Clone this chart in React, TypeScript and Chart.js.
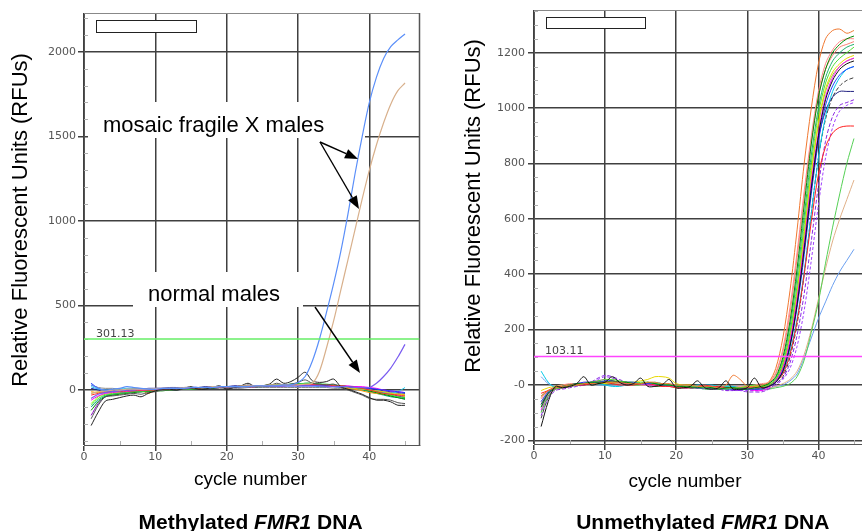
import React, { useEffect, useRef } from 'react';
import { Chart, registerables } from 'chart.js';

Chart.register(...registerables);

// ---------------- shared ----------------
const cycles = [
  1, 2, 3, 4, 5, 6, 7, 8, 9, 10, 11, 12, 13, 14, 15, 16, 17, 18, 19, 20,
  21, 22, 23, 24, 25, 26, 27, 28, 29, 30, 31, 32, 33, 34, 35, 36, 37, 38, 39, 40,
  41, 42, 43, 44, 45,
];

// ---------------- left panel (methylated) ----------------
const leftXTicks = [0, 10, 20, 30, 40];
const leftXTickLabels = ['0', '10', '20', '30', '40'];
const leftXMinor = [5, 15, 25, 35, 45];
const leftYTicks = [0, 500, 1000, 1500, 2000];
const leftYTickLabels = ['0', '500', '1000', '1500', '2000'];
const leftYMinor = [-300, -200, -100, 100, 200, 300, 400, 600, 700, 800, 900, 1100, 1200, 1300, 1400, 1600, 1700, 1800, 1900, 2100, 2200];
const leftThreshold = 301.13;
const leftThresholdLabel = '301.13';

const mosaicBlue = [
  30, 10, 0, 5, 10, 20, 15, 10, 5, 5,
  10, 10, 10, 10, 15, 15, 15, 15, 20, 20,
  20, 20, 20, 25, 25, 25, 25, 30, 30, 45,
  80, 170, 300, 460, 630, 820, 1040, 1280, 1500, 1700,
  1850, 1960, 2030, 2070, 2105,
];
const mosaicTan = [
  -20, -10, -5, 0, 0, 5, 5, 5, 5, 10,
  10, 10, 10, 15, 15, 15, 15, 20, 20, 20,
  20, 25, 25, 25, 25, 30, 30, 30, 30, 30,
  35, 40, 110, 250, 410, 590, 770, 950, 1130, 1300,
  1450, 1580, 1690, 1770, 1815,
];
const latePurple = [
  -50, -25, -15, -10, -5, 0, 0, 5, 5, 5,
  10, 10, 10, 10, 15, 15, 15, 15, 20, 20,
  20, 20, 25, 25, 25, 25, 25, 25, 25, 25,
  25, 25, 25, 20, 20, 20, 20, 15, 15, 15,
  40, 80, 130, 195, 270,
];
const leftBlack = [
  -210, -130, -65, -55, -45, -35, -30, -40, -20, -5,
  5, 5, 0, 10, 20, 5, 5, 15, 25, 5,
  15, 25, 40, 20, 25, 35, 65, 40, 50, 75,
  105, 55, 45, 50, 65, 20, 5, -10, -25, -45,
  -60, -60, -70, -90, -90,
];
const leftGray = [
  -170, -90, -40, -35, -30, -25, -20, -25, -15, -10,
  0, 0, 5, 5, 10, 5, 10, 15, 20, 10,
  15, 20, 30, 20, 20, 25, 40, 30, 35, 45,
  60, 40, 35, 30, 35, 15, 0, -15, -30, -50,
  -55, -55, -60, -75, -80,
];
const leftB1 = [40, 10, -5, -5, 0, 0, 5, 5, 5, 10, 10, 10, 10, 15, 15, 15, 15, 20, 20, 20, 20, 20, 20, 25, 25, 25, 25, 25, 25, 25, 25, 25, 25, 25, 20, 20, 20, 15, 15, 10, 5, 0, -5, -10, -15];
const leftB2 = [-30, -20, -15, -10, -10, -5, -5, 0, 0, 0, 5, 5, 5, 10, 10, 10, 15, 15, 15, 15, 20, 20, 20, 20, 25, 25, 25, 30, 30, 30, 30, 30, 30, 30, 25, 25, 20, 15, 10, 0, -10, -20, -25, -30, -35];
const leftB3 = [-90, -50, -30, -25, -20, -15, -10, -10, -5, -5, 0, 0, 5, 5, 5, 10, 10, 15, 15, 15, 20, 20, 20, 25, 25, 30, 30, 30, 35, 35, 40, 40, 35, 35, 30, 25, 20, 15, 10, 0, -10, -20, -30, -40, -45];
const leftB4 = [-60, -35, -20, -15, -10, -10, -5, -5, 0, 0, 0, 5, 5, 5, 10, 10, 10, 15, 15, 15, 20, 20, 20, 20, 25, 25, 25, 25, 30, 30, 30, 30, 30, 30, 30, 25, 25, 20, 20, 15, 10, 0, -5, -10, -15];
const leftB5 = [-20, -10, -5, 0, 0, 0, 5, 5, 5, 5, 10, 10, 10, 10, 15, 15, 15, 15, 20, 20, 20, 20, 20, 25, 25, 25, 25, 25, 30, 30, 30, 30, 25, 25, 25, 20, 15, 10, 5, 0, -5, -10, -20, -25, -30];
const leftB6 = [20, 5, 0, 0, 5, 10, 10, 5, 5, 5, 5, 10, 10, 10, 10, 15, 15, 15, 15, 20, 20, 20, 20, 20, 20, 25, 25, 25, 25, 25, 25, 25, 20, 20, 20, 15, 15, 10, 5, 0, -5, -15, -20, -10, 15];
const leftB7 = [-120, -70, -40, -30, -25, -20, -15, -10, -10, -5, -5, 0, 0, 5, 5, 5, 10, 10, 15, 15, 15, 20, 20, 20, 25, 25, 30, 30, 30, 35, 35, 35, 35, 30, 30, 25, 20, 15, 5, -5, -15, -25, -35, -45, -55];
const leftB8 = [-10, -15, -10, -5, -5, 0, 0, 0, -20, 0, 5, 5, 5, 10, 10, 10, 15, 15, 20, 20, 20, 20, 25, 25, 25, 25, 25, 30, 30, 30, 30, 30, 25, 25, 20, 15, 10, 5, -5, -15, -20, -25, -30, -25, -30];
const leftB9 = [-150, -80, -40, -30, -20, -15, -10, -10, -5, -5, 0, 0, 0, 5, 5, 10, 10, 10, 15, 15, 15, 20, 20, 20, 25, 25, 25, 25, 30, 30, 30, 30, 30, 30, 25, 25, 20, 15, 10, 5, -5, -15, -25, -35, -45];
const leftB10 = [30, 15, 10, 10, 5, 5, 5, 0, 0, 0, 0, 5, 5, 5, 5, 10, 10, 10, 10, 10, 10, 10, 15, 15, 15, 15, 15, 15, 15, 15, 15, 15, 15, 15, 10, 10, 10, 5, 5, 0, -5, -10, -15, -20, -25];
const leftB11 = [-100, -60, -35, -25, -20, -15, -10, -10, -5, 0, 0, 5, 5, 5, 10, 10, 10, 15, 15, 20, 20, 20, 25, 25, 25, 30, 30, 30, 35, 35, 40, 40, 35, 30, 30, 25, 20, 10, 0, -10, -20, -30, -40, -45, -50];
const leftB12 = [-80, -40, -25, -20, -15, -10, -10, -5, -5, 0, 0, 0, 5, 5, 10, 10, 15, 15, 15, 20, 20, 20, 25, 25, 25, 30, 30, 30, 30, 35, 35, 35, 30, 30, 25, 20, 15, 10, 5, -5, -15, -25, -35, -40, -40];
const leftB13 = [10, 0, -10, -5, 0, 5, 5, 5, 10, 10, 10, 15, 15, 15, 15, 15, 20, 20, 20, 20, 25, 25, 25, 25, 25, 30, 30, 30, 30, 30, 30, 30, 30, 25, 25, 25, 20, 20, 15, 10, 5, -5, -10, -15, -20];

// ---------------- right panel (unmethylated) ----------------
const rightXTicks = [0, 10, 20, 30, 40];
const rightXTickLabels = ['0', '10', '20', '30', '40'];
const rightXMinor = [5, 15, 25, 35, 45];
const rightYTicks = [-200, 0, 200, 400, 600, 800, 1000, 1200];
const rightYTickLabels = ['-200', '-0', '200', '400', '600', '800', '1000', '1200'];
const rightYMinor = [-150, -100, -50, 50, 100, 150, 250, 300, 350, 450, 500, 550, 650, 700, 750, 850, 900, 950, 1050, 1100, 1150, 1250, 1300, 1350];
const rightThreshold = 103.11;
const rightThresholdLabel = '103.11';

const rBlack = [-150, -60, -5, -10, -5, 5, 30, 0, 5, 10, 30, 10, 0, 5, 25, -5, -5, 0, 20, -10, -10, -5, 15, -10, -15, -10, 15, -15, -15, -10, 25, -10, -5, 10, 50, 140, 290, 490, 710, 900, 1030, 1100, 1140, 1160, 1170];
const rOrange = [-40, -20, -10, -5, 0, 0, 5, 5, 5, 10, 10, 10, 5, 5, 5, 10, 10, 5, 5, 0, 0, 0, -5, -5, -5, -10, 0, 35, 20, -5, -5, 0, 10, 60, 170, 340, 560, 800, 1000, 1160, 1250, 1280, 1285, 1270, 1280];
const rDarkGreen = [-80, -30, -10, -5, 0, 5, 5, 10, 10, 10, 15, 10, 10, 5, 5, 10, 5, 0, 0, -5, -5, -10, -10, -5, -10, -15, -10, -10, -15, -15, -10, -5, 5, 30, 100, 230, 420, 650, 870, 1040, 1140, 1200, 1230, 1250, 1260];
const rLime = [-100, -40, -15, -10, -5, 0, 5, 10, 15, 20, 20, 15, 10, 5, 10, 10, 5, 5, 0, 0, -5, -5, -5, -10, -10, -10, -15, -10, -10, -5, 0, -5, 0, 20, 80, 190, 360, 580, 800, 980, 1090, 1150, 1180, 1200, 1220];
const rBlue = [-60, -25, -10, -5, 0, 5, 10, 10, 10, 15, 15, 10, 10, 10, 5, 5, 5, 0, 0, 0, -5, -5, -10, -10, -10, -10, -15, -15, -15, -15, -15, -15, -5, 10, 50, 140, 280, 470, 690, 880, 1010, 1080, 1120, 1140, 1150];
const rRed = [-30, -20, -10, -10, -5, 0, 0, 5, 10, 10, 5, 0, 0, 0, 5, 5, 0, -5, -5, -10, -10, -10, -5, 0, -5, -5, -10, -10, -10, -10, -10, -10, -5, 10, 40, 110, 230, 400, 590, 760, 860, 910, 930, 935, 935];
const rMagenta = [-90, -35, -15, -10, -5, 0, 5, 10, 15, 20, 15, 10, 5, 5, 5, 0, 0, 0, -5, -5, -10, -10, -10, -5, -5, -10, -10, -15, -15, -15, -20, -20, -10, 15, 60, 160, 310, 510, 730, 910, 1040, 1110, 1150, 1170, 1180];
const rCyan = [50, 10, -10, -10, -5, 0, 5, 10, 5, 0, -5, -5, 0, 5, 5, 5, 10, 5, 0, -5, -5, -5, 0, 0, 0, -5, -5, -5, -10, -10, -10, -10, -5, 10, 45, 120, 240, 410, 620, 820, 970, 1060, 1110, 1140, 1150];
const rPurple = [-110, -50, -20, -15, -10, -5, 0, 10, 25, 35, 30, 20, 10, 5, 5, 5, 0, 0, 0, -5, -5, -10, -10, -10, -15, -15, -20, -20, -20, -25, -25, -25, -15, 5, 25, 80, 180, 330, 520, 720, 880, 970, 1010, 1020, 1030];
const rYellow = [-20, -10, -5, -5, 0, 0, 5, 5, 5, 5, 10, 10, 10, 10, 15, 20, 30, 30, 25, 5, 0, 0, -5, -5, -5, -5, -5, -10, -10, -5, -5, -5, 0, 20, 75, 180, 340, 550, 770, 950, 1070, 1130, 1160, 1180, 1190];
const rNavy = [-70, -30, -10, -5, -5, 0, 0, 5, 5, 10, 10, 10, 5, 5, 5, 5, 5, 0, 0, 0, -5, -5, -10, -10, -10, -10, -10, -10, -15, -15, -15, -10, 0, 15, 60, 150, 300, 500, 720, 890, 990, 1040, 1060, 1060, 1060];
const rPink = [-50, -20, -5, 0, 5, 5, 10, 10, 10, 10, 10, 5, 5, 5, 0, 0, 0, -5, -5, -5, -5, -5, -5, -5, -10, -10, -10, -5, -5, -5, 0, 5, 10, 45, 130, 280, 480, 700, 900, 1060, 1160, 1210, 1240, 1250, 1250];
const rLightGreen = [-40, -20, -10, -5, 0, 0, 5, 5, 5, 5, 5, 5, 5, 0, 0, 0, -5, -5, -5, -10, -10, -10, -10, -15, -15, -15, -15, -15, -15, -15, -15, -15, -15, -10, -5, 5, 30, 90, 190, 300, 440, 570, 690, 800, 890];
const rTan = [-60, -25, -10, -5, 0, 5, 5, 5, 5, 5, 5, 5, 5, 5, 0, 0, 0, 0, -5, -5, -5, -5, -10, -10, -10, -10, -10, -10, -10, -10, -10, -10, -10, -5, 5, 20, 50, 110, 200, 310, 420, 520, 600, 670, 740];
const rSky = [30, 5, -5, -5, 0, 0, 5, 5, 0, 0, 0, 0, 5, 5, 5, 5, 5, 5, 0, 0, 0, -5, -5, -5, -5, -10, -10, -10, -10, -10, -10, -10, -10, -5, 0, 15, 40, 100, 170, 240, 300, 360, 410, 450, 490];
const rDarkGray = [-120, -45, -15, -10, -5, 0, 5, 5, 10, 10, 10, 5, 5, 5, 5, 0, 0, 0, -5, -5, -10, -10, -10, -10, -10, -15, -15, -15, -15, -15, -15, -15, -10, 5, 30, 100, 220, 400, 620, 820, 960, 1040, 1080, 1100, 1110];
const rTeal = [-80, -30, -10, -5, 0, 5, 5, 5, 5, 5, 10, 10, 10, 10, 5, 5, 5, 5, 0, 0, 0, 0, -5, -5, -5, -5, -5, -5, -10, -10, -5, 0, 5, 25, 90, 210, 390, 610, 830, 1000, 1110, 1170, 1200, 1220, 1230];
const rViolet = [-95, -40, -15, -10, -5, 0, 5, 10, 20, 30, 25, 15, 10, 5, 0, 0, 0, -5, -5, -5, -10, -10, -10, -15, -15, -15, -20, -20, -20, -20, -20, -20, -15, 0, 20, 60, 140, 270, 450, 650, 820, 930, 990, 1010, 1020];
const rOlive = [-70, -25, -5, 0, 0, 5, 5, 5, 10, 10, 10, 10, 10, 5, 5, 5, 5, 0, 0, 0, -5, -5, -5, -5, -10, -10, -10, -10, -10, -10, -5, -5, 0, 20, 70, 170, 330, 540, 760, 940, 1060, 1120, 1150, 1170, 1180];
const rSalmon = [-45, -20, -10, -5, 0, 5, 5, 10, 10, 10, 5, 5, 5, 5, 5, 0, 0, 0, 0, -5, -5, -5, -5, -5, -5, -10, -10, -10, -10, -5, -5, 0, 5, 40, 120, 260, 460, 680, 880, 1040, 1140, 1190, 1220, 1230, 1240];

// ---------------- series styling tables ----------------
type SeriesStyle = { values: number[]; color: string; width?: number; dash?: number[] };

const leftSeries: SeriesStyle[] = [
  { values: mosaicBlue, color: '#5b8ff9', width: 1.2 },
  { values: mosaicTan, color: '#d8b08c', width: 1.2 },
  { values: latePurple, color: '#7a5cf0', width: 1.2 },
  { values: leftBlack, color: '#222222' },
  { values: leftGray, color: '#555555' },
  { values: leftB1, color: '#1f3fff' },
  { values: leftB2, color: '#ff2a2a' },
  { values: leftB3, color: '#33dd33' },
  { values: leftB4, color: '#ff00ff' },
  { values: leftB5, color: '#e6d000' },
  { values: leftB6, color: '#22ccee' },
  { values: leftB7, color: '#008000' },
  { values: leftB8, color: '#ff9900' },
  { values: leftB9, color: '#8000c0' },
  { values: leftB10, color: '#888888' },
  { values: leftB11, color: '#00a080' },
  { values: leftB12, color: '#88ff00' },
  { values: leftB13, color: '#1a1a99' },
];

const rightSeries: SeriesStyle[] = [
  { values: rBlack, color: '#111111' },
  { values: rOrange, color: '#f07830' },
  { values: rDarkGreen, color: '#008800' },
  { values: rLime, color: '#50e030' },
  { values: rBlue, color: '#2040ff' },
  { values: rRed, color: '#ff2020' },
  { values: rMagenta, color: '#ff00ff' },
  { values: rCyan, color: '#00c8e8' },
  { values: rPurple, color: '#8a2be2', dash: [4, 2] },
  { values: rYellow, color: '#e8d800' },
  { values: rNavy, color: '#202080' },
  { values: rPink, color: '#ff8888' },
  { values: rLightGreen, color: '#55d055' },
  { values: rTan, color: '#e0b088' },
  { values: rSky, color: '#6a9ff0' },
  { values: rDarkGray, color: '#404040', dash: [4, 2] },
  { values: rTeal, color: '#20b070' },
  { values: rViolet, color: '#a040ff', dash: [3, 2] },
  { values: rOlive, color: '#9acd32' },
  { values: rSalmon, color: '#fa8072' },
];

// ---------------- decoration plugin ----------------
type Box = { x: number; y: number; w: number; h: number };
type Note = { text: string; x: number; y: number };
type Arrow = { x1: number; y1: number; x2: number; y2: number };
type Decor = {
  yTitle: Note;
  xTitle: Note;
  legendBox: Box;
  minorX: number[];
  minorY: number[];
  threshold: number;
  thresholdLabel: string;
  thresholdLabelX: number;
  frameRight: boolean;
  masks: Box[];
  notes: Note[];
  arrows: Arrow[];
};

function drawArrow(ctx: CanvasRenderingContext2D, a: Arrow) {
  const ang = Math.atan2(a.y2 - a.y1, a.x2 - a.x1);
  const head = 13;
  const half = 5;
  const bx = a.x2 - head * Math.cos(ang);
  const by = a.y2 - head * Math.sin(ang);
  ctx.beginPath();
  ctx.moveTo(a.x1, a.y1);
  ctx.lineTo(bx, by);
  ctx.stroke();
  ctx.beginPath();
  ctx.moveTo(a.x2, a.y2);
  ctx.lineTo(bx + half * Math.sin(ang), by - half * Math.cos(ang));
  ctx.lineTo(bx - half * Math.sin(ang), by + half * Math.cos(ang));
  ctx.closePath();
  ctx.fill();
}

function decorPlugin(d: Decor) {
  return {
    id: 'decor',
    beforeDatasetsDraw(chart: any) {
      const { ctx, chartArea: a, scales } = chart;
      ctx.save();
      ctx.fillStyle = '#ffffff';
      d.masks.forEach((m) => ctx.fillRect(m.x, m.y, m.w, m.h));
      ctx.strokeStyle = '#888888';
      ctx.lineWidth = 1;
      ctx.beginPath();
      ctx.moveTo(a.left, a.top + 0.5);
      ctx.lineTo(a.right, a.top + 0.5);
      ctx.stroke();
      if (d.frameRight) {
        ctx.strokeStyle = '#555555';
        ctx.lineWidth = 1.5;
        ctx.beginPath();
        ctx.moveTo(a.right, a.top);
        ctx.lineTo(a.right, a.bottom);
        ctx.stroke();
      }
      ctx.strokeStyle = '#b0b0b0';
      ctx.lineWidth = 1;
      d.minorY.forEach((v) => {
        const y = Math.round(scales.y.getPixelForValue(v)) + 0.5;
        ctx.beginPath();
        ctx.moveTo(a.left, y);
        ctx.lineTo(a.left + 4, y);
        ctx.stroke();
      });
      d.minorX.forEach((v) => {
        const x = Math.round(scales.x.getPixelForValue(v)) + 0.5;
        ctx.beginPath();
        ctx.moveTo(x, a.bottom);
        ctx.lineTo(x, a.bottom - 4);
        ctx.stroke();
      });
      ctx.restore();
    },
    afterDatasetsDraw(chart: any) {
      const { ctx, scales } = chart;
      ctx.save();
      // legend box
      const b = d.legendBox;
      ctx.fillStyle = '#ffffff';
      ctx.fillRect(b.x, b.y, b.w, b.h);
      ctx.strokeStyle = '#222222';
      ctx.lineWidth = 1;
      ctx.strokeRect(b.x + 0.5, b.y + 0.5, b.w, b.h);
      // threshold label
      const ty = scales.y.getPixelForValue(d.threshold);
      ctx.fillStyle = '#444444';
      ctx.font = '11px "DejaVu Sans"';
      ctx.textAlign = 'left';
      ctx.textBaseline = 'alphabetic';
      ctx.fillText(d.thresholdLabel, d.thresholdLabelX, ty - 2);
      // notes
      ctx.fillStyle = '#000000';
      ctx.font = '22px Arial, "Liberation Sans"';
      d.notes.forEach((n) => ctx.fillText(n.text, n.x, n.y));
      ctx.strokeStyle = '#000000';
      ctx.lineWidth = 1.4;
      d.arrows.forEach((ar) => drawArrow(ctx, ar));
      ctx.restore();
    },
    afterDraw(chart: any) {
      const { ctx } = chart;
      ctx.save();
      ctx.fillStyle = '#000000';
      ctx.textBaseline = 'alphabetic';
      ctx.textAlign = 'center';
      ctx.font = '22px Arial, "Liberation Sans"';
      ctx.translate(d.yTitle.x, d.yTitle.y);
      ctx.rotate(-Math.PI / 2);
      ctx.fillText(d.yTitle.text, 0, 0);
      ctx.restore();
      ctx.save();
      ctx.fillStyle = '#000000';
      ctx.textBaseline = 'alphabetic';
      ctx.textAlign = 'center';
      ctx.font = '19px Arial, "Liberation Sans"';
      ctx.fillText(d.xTitle.text, d.xTitle.x, d.xTitle.y);
      ctx.restore();
    },
  };
}

type Panel = {
  series: SeriesStyle[];
  thresholdColor: string;
  threshold: number;
  xMin: number;
  xMax: number;
  yMin: number;
  yMax: number;
  xTicks: number[];
  xTickLabels: string[];
  yTicks: number[];
  yTickLabels: string[];
  yWidth: number;
  top: number;
  bottom: number;
  padRight: number;
  yTickPadding: number;
  decor: Decor;
};

const CANVAS_H = 531;
const X_SCALE_H = 40;

function buildConfig(p: Panel): any {
  const datasets: any[] = [
    {
      data: [
        { x: p.xMin, y: p.threshold },
        { x: p.xMax, y: p.threshold },
      ],
      borderColor: p.thresholdColor,
      borderWidth: 1.5,
      tension: 0,
      pointRadius: 0,
    },
    ...p.series.map((s) => ({
      data: s.values.map((v, i) => ({ x: cycles[i], y: v })),
      borderColor: s.color,
      borderWidth: s.width ?? 1,
      borderDash: s.dash ?? [],
      pointRadius: 0,
      tension: 0.3,
    })),
  ];
  const tickFont = { family: '"DejaVu Sans"', size: 11 };
  return {
    type: 'line',
    data: { datasets },
    options: {
      animation: false,
      responsive: false,
      maintainAspectRatio: false,
      devicePixelRatio: 1,
      events: [],
      layout: {
        padding: { left: 0, right: p.padRight, top: p.top, bottom: CANVAS_H - p.bottom - X_SCALE_H },
      },
      plugins: { legend: { display: false }, tooltip: { enabled: false }, title: { display: false } },
      elements: { point: { radius: 0 } },
      scales: {
        x: {
          type: 'linear',
          min: p.xMin,
          max: p.xMax,
          afterBuildTicks: (s: any) => {
            s.ticks = p.xTicks.map((v) => ({ value: v }));
          },
          afterFit: (s: any) => {
            s.height = X_SCALE_H;
          },
          ticks: {
            callback: (_v: any, i: number) => p.xTickLabels[i],
            font: tickFont,
            color: '#555555',
            padding: 0,
            maxRotation: 0,
            autoSkip: false,
          },
          grid: { color: '#404040', lineWidth: 1.5, tickLength: 6, drawTicks: true },
          border: { display: true, color: '#555555', width: 1 },
        },
        y: {
          type: 'linear',
          min: p.yMin,
          max: p.yMax,
          afterBuildTicks: (s: any) => {
            s.ticks = p.yTicks.map((v) => ({ value: v }));
          },
          afterFit: (s: any) => {
            s.width = p.yWidth;
          },
          ticks: {
            callback: (_v: any, i: number) => p.yTickLabels[i],
            font: tickFont,
            color: '#555555',
            padding: p.yTickPadding,
            autoSkip: false,
          },
          grid: { color: '#404040', lineWidth: 1.5, tickLength: 6, drawTicks: true },
          border: { display: true, color: '#555555', width: 1 },
        },
      },
    },
    plugins: [decorPlugin(p.decor)],
  };
}

const leftPanel: Panel = {
  series: leftSeries,
  thresholdColor: '#66ee66',
  threshold: leftThreshold,
  xMin: 0,
  xMax: 47.03,
  yMin: -325,
  yMax: 2229,
  xTicks: leftXTicks,
  xTickLabels: leftXTickLabels,
  yTicks: leftYTicks,
  yTickLabels: leftYTickLabels,
  yWidth: 84,
  top: 13,
  bottom: 445,
  padRight: 11.5,
  yTickPadding: 2,
  decor: {
    yTitle: { text: 'Relative Fluorescent Units (RFUs)', x: 27, y: 220 },
    xTitle: { text: 'cycle number', x: 250.6, y: 485 },
    legendBox: { x: 96, y: 20, w: 100, h: 12 },
    minorX: leftXMinor,
    minorY: leftYMinor,
    threshold: leftThreshold,
    thresholdLabel: leftThresholdLabel,
    thresholdLabelX: 96,
    frameRight: true,
    masks: [
      { x: 88, y: 102, w: 277, h: 36 },
      { x: 133, y: 272, w: 170, h: 35 },
    ],
    notes: [
      { text: 'mosaic fragile X males', x: 103, y: 132 },
      { text: 'normal males', x: 148, y: 301 },
    ],
    arrows: [
      { x1: 320, y1: 142, x2: 358, y2: 159 },
      { x1: 320, y1: 142, x2: 359, y2: 209 },
      { x1: 315, y1: 307, x2: 360, y2: 373 },
    ],
  },
};

const rightPanel: Panel = {
  series: rightSeries,
  thresholdColor: '#ff44ff',
  threshold: rightThreshold,
  xMin: 0,
  xMax: 46.13,
  yMin: -213,
  yMax: 1354,
  xTicks: rightXTicks,
  xTickLabels: rightXTickLabels,
  yTicks: rightYTicks,
  yTickLabels: rightYTickLabels,
  yWidth: 103,
  top: 10,
  bottom: 444,
  padRight: 0,
  yTickPadding: 3,
  decor: {
    yTitle: { text: 'Relative Fluorescent Units (RFUs)', x: 48.7, y: 206 },
    xTitle: { text: 'cycle number', x: 254, y: 487 },
    legendBox: { x: 115, y: 17, w: 99, h: 11 },
    minorX: rightXMinor,
    minorY: rightYMinor,
    threshold: rightThreshold,
    thresholdLabel: rightThresholdLabel,
    thresholdLabelX: 114,
    frameRight: false,
    masks: [],
    notes: [],
    arrows: [],
  },
};

function PanelChart({ panel, left }: { panel: Panel; left: number }) {
  const ref = useRef<HTMLCanvasElement | null>(null);
  useEffect(() => {
    if (!ref.current) return;
    const chart = new Chart(ref.current, buildConfig(panel));
    return () => chart.destroy();
  }, [panel]);
  return (
    <canvas
      ref={ref}
      width={431}
      height={CANVAS_H}
      style={{ position: 'absolute', left, top: 0, width: 431, height: CANVAS_H }}
    />
  );
}

const captionStyle: React.CSSProperties = {
  position: 'absolute',
  top: 511,
  transform: 'translateX(-50%)',
  whiteSpace: 'nowrap',
  font: 'bold 21px Arial, "Liberation Sans", sans-serif',
  lineHeight: '21px',
  color: '#000',
};

export default function App() {
  return (
    <div
      style={{
        position: 'fixed',
        left: 0,
        top: 0,
        width: 862,
        height: 531,
        background: '#ffffff',
        overflow: 'hidden',
      }}
    >
      <PanelChart panel={leftPanel} left={0} />
      <PanelChart panel={rightPanel} left={431} />
      <div style={{ ...captionStyle, left: 250.6 }}>
        Methylated <i>FMR1</i> DNA
      </div>
      <div style={{ ...captionStyle, left: 702.8 }}>
        Unmethylated <i>FMR1</i> DNA
      </div>
    </div>
  );
}
